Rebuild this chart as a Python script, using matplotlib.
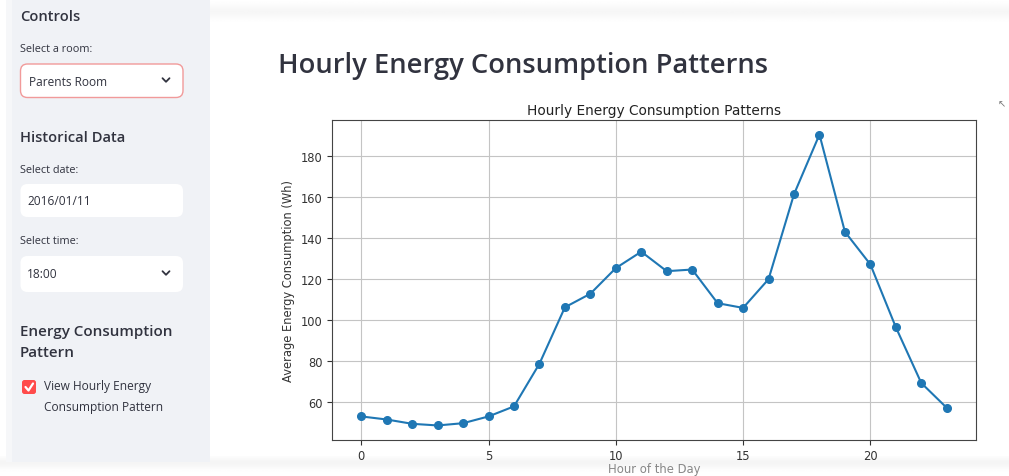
import matplotlib
matplotlib.use("Agg")
import matplotlib.pyplot as plt
from matplotlib.patches import FancyBboxPatch, Rectangle
import numpy as np

# ---------------- data ----------------
hours = list(range(24))
consumption = [53.0, 51.5, 49.4, 48.6, 49.7, 53.0, 57.9, 78.7, 106.2, 112.8,
               125.3, 133.3, 123.8, 124.6, 108.2, 105.9, 119.9, 161.3, 190.4,
               143.0, 127.1, 96.5, 69.3, 57.2]
xticks = [0, 5, 10, 15, 20]
yticks = [60, 80, 100, 120, 140, 160, 180]

page_title = "Hourly Energy Consumption Patterns"
chart_title = "Hourly Energy Consumption Patterns"
x_label = "Hour of the Day"
y_label = "Average Energy Consumption (Wh)"

room = "Parents Room"
date_value = "2016/01/11"
time_value = "18:00"

# ---------------- figure ----------------
W, H = 1009, 477
fig = plt.figure(figsize=(W / 100, H / 100), dpi=100)
fig.patch.set_facecolor("white")

ui = fig.add_axes([0, 0, 1, 1])
ui.set_xlim(0, W)
ui.set_ylim(H, 0)
ui.axis("off")

UI_FONT = ["Open Sans", "DejaVu Sans"]
TXT = "#31333F"
SIDEBAR = "#F0F2F6"

# top shadow band on main area
grad = np.linspace(0, 1, 30)
band = 1 - 0.035 * np.exp(-((grad - 0.45) / 0.25) ** 2)
ui.imshow(np.tile(band[:, None], (1, 10)), extent=(205, W, 28, 0), cmap="gray",
          vmin=0, vmax=1, aspect="auto", zorder=0)
# bottom shadow band
grad2 = np.linspace(0, 1, 20)
band2 = 1 - 0.04 * np.exp(-((grad2 - 0.35) / 0.3) ** 2)
ui.imshow(np.tile(band2[:, None], (1, 10)), extent=(0, W, 477, 457), cmap="gray",
          vmin=0, vmax=1, aspect="auto", zorder=0)

# sidebar
ui.add_patch(Rectangle((12, 0), 198, 463, facecolor=SIDEBAR, edgecolor="none", zorder=1))
ui.add_patch(Rectangle((6, 0), 6, 463, facecolor="#f6f7f9", edgecolor="none", zorder=1))

def label(x, y, s, size=7.8, weight="normal", color=TXT):
    ui.text(x, y, s, fontsize=size, fontweight=weight, color=color,
            family=UI_FONT, va="center", ha="left", zorder=3)

def box(x0, y0, x1, y1, edge="none"):
    ui.add_patch(FancyBboxPatch((x0, y0), x1 - x0, y1 - y0,
                                boxstyle="round,pad=0,rounding_size=7",
                                facecolor="white", edgecolor=edge, lw=1.0, zorder=2))

def chevron(cx, cy):
    ui.plot([cx - 3.5, cx, cx + 3.5], [cy - 1.8, cy + 1.8, cy - 1.8], color=TXT, lw=1.3,
            solid_capstyle="round", solid_joinstyle="round", zorder=3)

label(20, 17, "Controls", size=10.6, weight="semibold")
label(20, 50, "Select a room:")
box(20.5, 65, 183, 98.5, edge="#F19A9A")
label(29, 82, room, size=8.6)
chevron(166, 81)

label(20, 138, "Historical Data", size=10.6, weight="semibold")
label(20, 171, "Select date:")
box(20.5, 185, 183, 218)
label(27, 202, date_value, size=8.6)

label(20, 242, "Select time:")
box(20.5, 257, 183, 293)
label(27, 275, time_value, size=8.6)
chevron(166, 274)

label(20, 332, "Energy Consumption", size=10.9, weight="semibold")
label(20, 353, "Pattern", size=10.9, weight="semibold")

ui.add_patch(FancyBboxPatch((22, 381), 14, 14, boxstyle="round,pad=0,rounding_size=2.5",
                            facecolor="#FF4B4B", edgecolor="none", zorder=2))
ui.plot([25.5, 28.5, 33], [388, 391.5, 384.5], color="white", lw=1.6,
        solid_capstyle="round", solid_joinstyle="round", zorder=3)
label(44, 387, "View Hourly Energy", size=8.6)
label(44, 408, "Consumption Pattern", size=8.6)

# page heading
ui.text(278, 66, page_title, fontsize=19.7, fontweight="semibold", color=TXT,
        family=UI_FONT, va="center", ha="left", zorder=3)

# expand icon hint at right edge
ui.text(998, 104, "\u2196", fontsize=7, color="#777777", va="center", ha="left", zorder=3)

# ---------------- chart ----------------
left, right, top, bottom = 332, 976, 121, 441
ax = fig.add_axes([left / W, 1 - bottom / H, (right - left) / W, (bottom - top) / H])
ax.plot(hours, consumption, marker="o", color="#1f77b4", lw=1.5, markersize=5.5)
ax.set_xticks(xticks)
ax.set_yticks(yticks)
ax.grid(True, color="#c4c4c4", lw=0.8)
ax.set_axisbelow(True)
ax.tick_params(labelsize=8.3, colors="#333333", length=3.5)
ax.tick_params(axis="x", pad=3)
for s in ax.spines.values():
    s.set_color("#444444")
ax.set_title(chart_title, fontsize=9.9, color="#222222", pad=4)
ax.set_xlabel(x_label, fontsize=8.4, color="#888888", labelpad=0)
ax.set_ylabel(y_label, fontsize=8.3, color="#333333", labelpad=4)

fig.savefig("out.png", dpi=100, facecolor="white")
